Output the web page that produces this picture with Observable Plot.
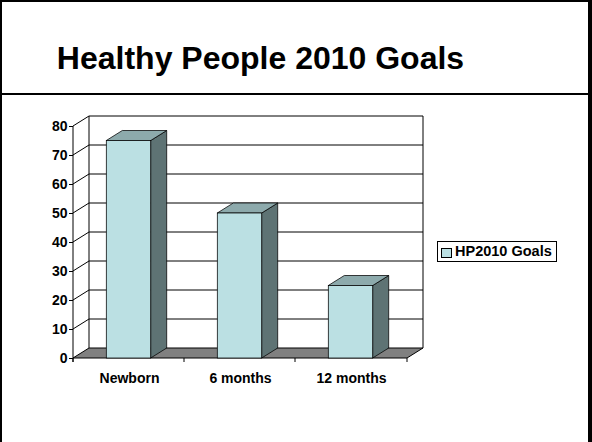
<!DOCTYPE html>
<html>
<head>
<meta charset="utf-8">
<script src="https://cdn.jsdelivr.net/npm/d3@7"></script>
<script src="https://cdn.jsdelivr.net/npm/@observablehq/plot@0.6"></script>
<style>
  html, body { margin: 0; padding: 0; background: #fff; }
  #chart { position: relative; width: 592px; height: 442px; overflow: hidden;
           font-family: "Liberation Sans", Arial, sans-serif; color: #000; background: #fff; }
  .bl { position: absolute; background: #000; }
  #title { position: absolute; left: 0; top: 39px; width: 521px; text-align: center;
           font-weight: bold; font-size: 32px; line-height: 38px; white-space: nowrap; }
  #plot { position: absolute; left: 0; top: 95px; }
  #legend { position: absolute; left: 437px; top: 241px; width: 118px; height: 19px;
            border: 1px solid #000; background: #fff; }
  #legend .sw { position: absolute; left: 3px; top: 6px; width: 9px; height: 8px;
                border: 1px solid #000; }
  #legend .lt { position: absolute; left: 17px; top: 1px; font-weight: bold; font-size: 14.5px;
                line-height: 17px; white-space: nowrap; }
</style>
</head>
<body>
<div id="chart">
  <div id="title"></div>
  <div id="plot"></div>
  <div id="legend"><div class="sw"></div><div class="lt"></div></div>
  <div class="bl" style="left:0;top:0;width:592px;height:2px;"></div>
  <div class="bl" style="left:0;top:0;width:2px;height:442px;"></div>
  <div class="bl" style="left:588px;top:0;width:4px;height:442px;"></div>
  <div class="bl" style="left:0;top:93px;width:592px;height:2px;"></div>
</div>
<script>
// ---- data ----
const titleText = "Healthy People 2010 Goals";
const seriesName = "HP2010 Goals";
const categories = ["Newborn", "6 months", "12 months"];
const values = [75, 50, 25];
const yTicks = [0, 10, 20, 30, 40, 50, 60, 70, 80];

// ---- styles ----
const colFront = "#BBE0E3";
const colTop = "#8DAAAC";
const colSide = "#5E7374";
const colFloor = "#808080";
const depth = {dx: 16, dy: -10};
const padInner = 0.6, padOuter = 0.3;

const data = categories.map((c, i) => ({category: c, value: values[i]}));

document.getElementById("title").textContent = titleText;
document.querySelector("#legend .lt").textContent = seriesName;
document.querySelector("#legend .sw").style.background = colFront;

function threeD(index, scales, vals, dims) {
  const {x, y} = scales;
  const step = x(categories[1]) - x(categories[0]);
  let bw = x.bandwidth;
  if (typeof bw === "function") bw = bw();
  if (!(bw > 0)) bw = step * (1 - padInner);
  const x0 = dims.marginLeft, x1 = dims.width - dims.marginRight;
  // band start (handles scale functions that return either band start or band centre)
  const shift = x(categories[0]) - (x0 + step * padOuter);
  const bandStart = c => x(c) - shift;
  const yb = y(0), yt = y(yTicks[yTicks.length - 1]);
  const {dx, dy} = depth;
  const g = d3.create("svg:g");
  // floor
  g.append("path")
    .attr("d", `M${x0},${yb}L${x0 + dx},${yb + dy}L${x1 + dx},${yb + dy}L${x1},${yb}Z`)
    .attr("fill", colFloor).attr("stroke", "#000").attr("stroke-width", 1);
  // gridlines on back wall and left wall
  for (const v of yTicks) {
    if (v === 0) continue;
    const yy = y(v);
    g.append("line").attr("x1", x0 + dx).attr("x2", x1 + dx).attr("y1", yy + dy).attr("y2", yy + dy)
      .attr("stroke", "#000").attr("stroke-width", 1);
    g.append("line").attr("x1", x0).attr("x2", x0 + dx).attr("y1", yy).attr("y2", yy + dy)
      .attr("stroke", "#000").attr("stroke-width", 1);
  }
  // back wall verticals
  for (const xx of [x0 + dx, x1 + dx]) {
    g.append("line").attr("x1", xx).attr("x2", xx).attr("y1", yt + dy).attr("y2", yb + dy)
      .attr("stroke", "#000").attr("stroke-width", 1);
  }
  // front y axis line
  g.append("line").attr("x1", x0).attr("x2", x0).attr("y1", yt).attr("y2", yb + 4)
    .attr("stroke", "#000").attr("stroke-width", 1);
  // category boundary ticks
  const starts = categories.map(bandStart);
  const bounds = [x0, ...starts.slice(1).map(s => s - step * padInner / 2), x1];
  for (const b of bounds) {
    g.append("line").attr("x1", b).attr("x2", b).attr("y1", yb).attr("y2", yb + 4)
      .attr("stroke", "#000").attr("stroke-width", 1);
  }
  // bars
  for (const d of data) {
    const bx0 = bandStart(d.category), bx1 = bx0 + bw, yv = y(d.value);
    g.append("path")
      .attr("d", `M${bx1},${yv}L${bx1 + dx},${yv + dy}L${bx1 + dx},${yb + dy}L${bx1},${yb}Z`)
      .attr("fill", colSide).attr("stroke", "#000").attr("stroke-width", 0.75);
    g.append("path")
      .attr("d", `M${bx0},${yv}L${bx0 + dx},${yv + dy}L${bx1 + dx},${yv + dy}L${bx1},${yv}Z`)
      .attr("fill", colTop).attr("stroke", "#000").attr("stroke-width", 0.75);
    g.append("rect").attr("x", bx0).attr("y", yv).attr("width", bw).attr("height", yb - yv)
      .attr("fill", colFront).attr("stroke", "#000").attr("stroke-width", 0.75);
  }
  return g.node();
}

const chart = Plot.plot({
  width: 592,
  height: 347,
  marginLeft: 73,
  marginRight: 185,
  marginTop: 31,
  marginBottom: 84,
  style: {fontFamily: '"Liberation Sans", Arial, sans-serif', fontSize: "14px", fontWeight: "bold",
          color: "#000", background: "transparent", overflow: "visible"},
  x: {domain: categories, paddingInner: padInner, paddingOuter: padOuter, label: null, tickSize: 0, tickPadding: 15},
  y: {domain: [0, 80], ticks: yTicks, tickSize: 4, tickPadding: 2, label: null, tickFormat: d => String(d)},
  marks: [threeD]
});
document.getElementById("plot").appendChild(chart);
</script>
</body>
</html>
